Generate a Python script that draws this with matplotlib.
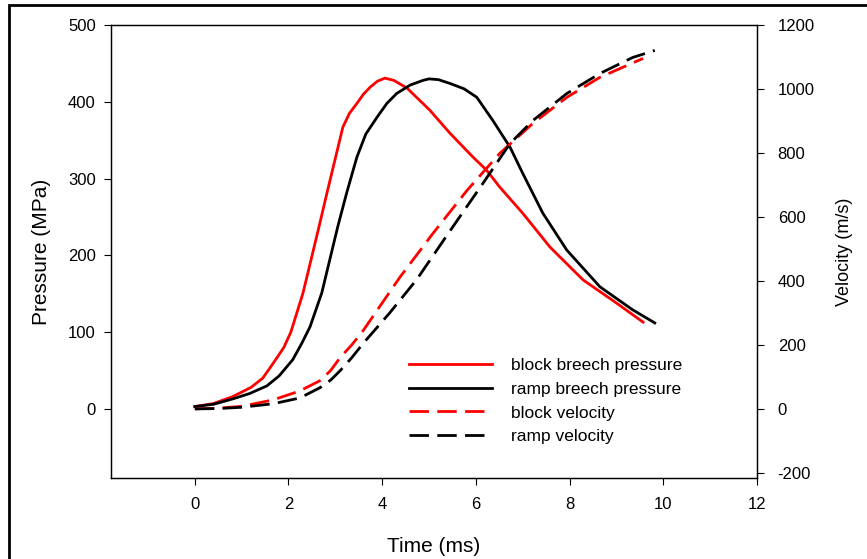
import matplotlib
matplotlib.use("Agg")
import matplotlib.pyplot as plt
from matplotlib.patches import Rectangle

plt.rcParams['font.family'] = ['Liberation Sans', 'DejaVu Sans']
plt.rcParams['axes.unicode_minus'] = False

# block breech pressure (MPa)
t_block_p = [0.0, 0.4, 0.81, 1.2, 1.45, 1.68, 1.9, 2.05, 2.31, 2.48, 2.65, 2.82,
             2.99, 3.16, 3.3, 3.46, 3.6, 3.74, 3.9, 4.06, 4.25, 4.53, 5.02, 5.45,
             5.94, 6.23, 6.51, 7.0, 7.58, 8.29, 9.0, 9.57]
p_block = [3, 7, 16, 28, 40, 60, 80, 100, 151, 194, 237, 281,
           324, 367, 385, 398, 410, 419, 427, 431, 428, 418, 389, 359,
           328, 311, 289, 255, 211, 168, 138, 113]

# ramp breech pressure (MPa)
t_ramp_p = [0.0, 0.4, 0.81, 1.17, 1.54, 1.8, 2.09, 2.28, 2.46, 2.71, 2.88, 3.05,
            3.24, 3.46, 3.65, 3.89, 4.1, 4.31, 4.6, 4.87, 5.0, 5.2, 5.45, 5.75,
            6.02, 6.36, 6.73, 7.0, 7.43, 7.94, 8.65, 9.35, 9.82]
p_ramp = [3, 6, 13, 20, 30, 43, 64, 85, 107, 151, 194, 237,
          281, 328, 358, 380, 398, 411, 422, 428, 430, 429, 424, 417,
          406, 376, 341, 307, 255, 207, 159, 129, 112]

# block velocity (m/s)
t_block_v = [0.0, 0.5, 1.0, 1.67, 2.24, 2.67, 2.9, 3.1, 3.35, 3.59, 3.9, 4.38,
             5.08, 5.81, 6.51, 7.22, 7.94, 8.65, 9.57]
v_block = [0, 2, 8, 28, 56, 88, 120, 160, 200, 244, 310, 412,
           548, 683, 799, 893, 974, 1037, 1096]

# ramp velocity (m/s)
t_ramp_v = [0.0, 0.5, 1.0, 1.67, 2.24, 2.67, 2.9, 3.1, 3.35, 3.59, 4.16, 4.74,
            5.45, 6.15, 6.73, 7.22, 7.94, 8.65, 9.35, 9.82]
v_ramp = [0, 1, 5, 16, 34, 66, 90, 119, 160, 204, 300, 405,
          557, 705, 830, 902, 986, 1049, 1099, 1121]

fig = plt.figure(figsize=(8.67, 5.59), dpi=100)
ax = fig.add_axes([0.128, 0.145, 0.745, 0.810])
ax2 = ax.twinx()

lw = 2.0
dash = (7, 3)
l1, = ax.plot(t_block_p, p_block, color='#ff0000', lw=lw, label='block breech pressure')
l2, = ax.plot(t_ramp_p, p_ramp, color='black', lw=lw, label='ramp breech pressure')
l3, = ax2.plot(t_block_v, v_block, color='#ff0000', lw=lw, dashes=dash, label='block velocity')
l4, = ax2.plot(t_ramp_v, v_ramp, color='black', lw=lw, dashes=dash, label='ramp velocity')

ax.set_xlim(-1.79, 12)
ax.set_ylim(-90, 500)
ax2.set_ylim(-216, 1200)
ax.set_xticks(range(0, 13, 2))
ax.set_yticks(range(0, 501, 100))
ax2.set_yticks(range(-200, 1201, 200))

for a in (ax, ax2):
    a.tick_params(direction='out', length=5, width=0.8, labelsize=12)
    for s in a.spines.values():
        s.set_linewidth(0.9)
ax.tick_params(axis='x', pad=9)
ax.tick_params(axis='y', pad=6)
ax2.tick_params(axis='y', pad=10)

ax.set_xlabel('Time (ms)', fontsize=15, labelpad=18)
ax.set_ylabel('Pressure (MPa)', fontsize=15, labelpad=12)
ax2.set_ylabel('Velocity (m/s)', fontsize=13, labelpad=15)

ax2.legend(handles=[l1, l2, l3, l4], loc='upper left', bbox_to_anchor=(0.437, 0.30),
           frameon=False, fontsize=12.5, handlelength=4.8, handletextpad=1.1,
           labelspacing=0.5)

fig.patches.append(Rectangle((9 / 867, -0.1), 1.2, 1.1 - 5 / 559, transform=fig.transFigure,
                             fill=False, edgecolor='black', lw=2.0))

fig.savefig('out.png', dpi=100)
